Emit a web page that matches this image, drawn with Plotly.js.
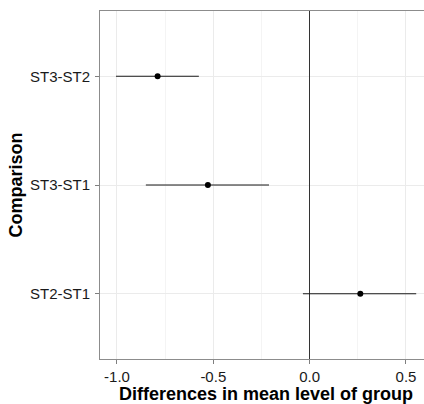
<!DOCTYPE html>
<html>
<head>
<meta charset="utf-8">
<script src="https://cdn.plot.ly/plotly-3.0.1.min.js"></script>
<style>html,body{margin:0;padding:0;background:#fff;overflow:hidden;}#chart{width:432px;height:404px;}</style>
</head>
<body>
<div id="chart"></div>
<script>
const comparisons = ["ST2-ST1", "ST3-ST1", "ST3-ST2"];
const diffs = [0.263, -0.528, -0.789];
const lower = [-0.035, -0.850, -1.005];
const upper = [0.553, -0.211, -0.575];
const xTickVals = [-1.0, -0.5, 0.0, 0.5];
const xTickText = ["-1.0", "-0.5", "0.0", "0.5"];

const font = "Liberation Sans, Arial, sans-serif";

const trace = {
  type: "scatter",
  mode: "markers",
  x: diffs,
  y: comparisons,
  marker: {color: "#000", size: 6},
  error_x: {
    type: "data",
    symmetric: false,
    array: upper.map((u, i) => u - diffs[i]),
    arrayminus: diffs.map((d, i) => d - lower[i]),
    width: 0,
    thickness: 1.2,
    color: "#1a1a1a"
  },
  hoverinfo: "x+y"
};

const layout = {
  width: 432, height: 404,
  margin: {l: 100, r: 0, t: 11, b: 45},
  paper_bgcolor: "#fff", plot_bgcolor: "#fff",
  showlegend: false,
  font: {family: font, color: "#1a1a1a"},
  xaxis: {
    range: [-1.088, 0.635],
    tickmode: "array", tickvals: xTickVals, ticktext: xTickText,
    tickfont: {size: 15, family: font, color: "#1a1a1a"},
    ticks: "outside", ticklen: 4, tickcolor: "#7f7f7f",
    showgrid: true, gridcolor: "#ebebeb", gridwidth: 1,
    minor: {tickmode: "array", tickvals: [-0.75, -0.25, 0.25], showgrid: true, gridcolor: "#f4f4f4", ticks: ""},
    zeroline: true, zerolinecolor: "#333", zerolinewidth: 1,
    showline: true, linecolor: "#8c8c8c", linewidth: 1, mirror: true,
    title: {text: "<b>Differences in mean level of group</b>", font: {size: 18, family: font, color: "#000"}, standoff: 3}
  },
  yaxis: {
    type: "category",
    categoryorder: "array", categoryarray: comparisons,
    range: [-0.6, 2.6],
    tickfont: {size: 15, family: font, color: "#1a1a1a"},
    ticks: "outside", ticklen: 4, tickcolor: "#7f7f7f",
    ticklabelstandoff: 2,
    showgrid: true, gridcolor: "#ebebeb", gridwidth: 1,
    showline: true, linecolor: "#8c8c8c", linewidth: 1, mirror: true,
    title: {text: "<b>Comparison</b>", font: {size: 18, family: font, color: "#000"}, standoff: 2}
  }
};

Plotly.newPlot("chart", [trace], layout, {displayModeBar: false, staticPlot: true});
</script>
</body>
</html>
